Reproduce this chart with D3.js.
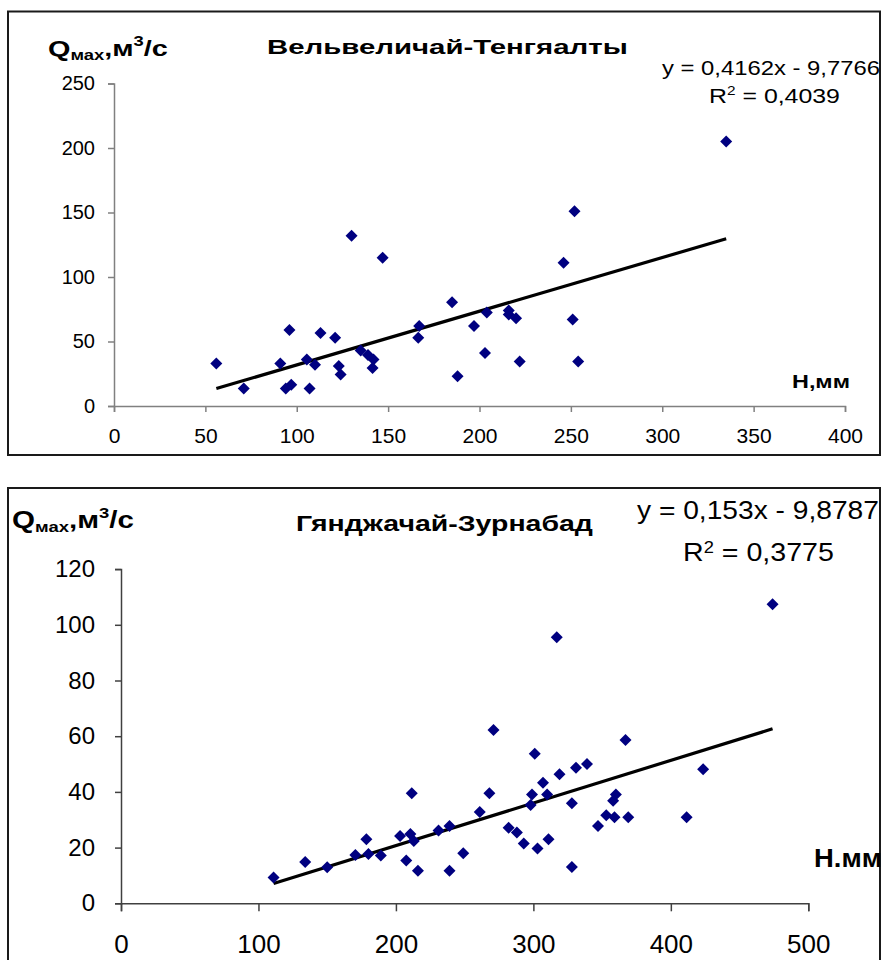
<!DOCTYPE html>
<html>
<head>
<meta charset="utf-8">
<script src="https://cdn.jsdelivr.net/npm/d3@7"></script>
<style>
  body { margin: 0; background: #fff; }
  text { font-family: Arial, "Liberation Sans", sans-serif; }
</style>
</head>
<body>
<script>
// Вельвеличай-Тенгяалты: H (mm) vs Qmax (m3/s)
var hTop = [56, 71, 91, 94, 97, 96, 105.5, 107, 110, 113, 121, 123, 124, 130, 135, 139, 142, 141.5, 147,
            167, 166.5, 185, 188, 197, 203, 204, 216, 216, 220, 222, 246, 251, 252, 254, 335];
var qTop = [33, 13.5, 33, 13.5, 16.5, 59, 36, 13.5, 32, 56.5, 53, 31, 24.5, 132, 43, 39.5, 36, 29.5, 115,
            62, 53, 80.5, 23, 62, 41, 72.5, 74, 71, 68, 34.5, 111, 67, 151, 34.5, 205];
var fitTop = [0.4162, -9.7766];
var xTicksTop = [0, 50, 100, 150, 200, 250, 300, 350, 400];
var yTicksTop = [0, 50, 100, 150, 200, 250];

// Гянджачай-Зурнабад
var hBot = [111, 134, 150, 170.5, 178.5, 180, 189, 203, 207.5, 210.5, 211.5, 213, 216, 231, 239, 239, 249,
            261, 268, 271, 282, 288, 293, 298, 299, 301, 303, 307, 310, 311, 317, 319, 328, 328, 331,
            339, 347, 353, 358, 360, 359, 367, 369, 411.5, 423.5, 474];
var qBot = [9.3, 14.8, 12.9, 17.3, 23, 17.7, 17.2, 24.2, 15.4, 24.9, 39.5, 22.4, 11.7, 26.1, 27.8, 11.7, 18,
            32.8, 39.5, 62.2, 27.1, 25.4, 21.5, 35.3, 39.1, 53.7, 19.7, 43.3, 39.1, 23, 95.5, 46.3, 35.9, 13, 48.7,
            50, 27.8, 31.6, 36.8, 39.1, 30.9, 58.6, 30.9, 30.9, 48.1, 107.4];
var fitBot = [0.153, -9.8787];
var xTicksBot = [0, 100, 200, 300, 400, 500];
var yTicksBot = [0, 20, 40, 60, 80, 100, 120];

var svg = d3.select("body").append("svg")
    .attr("width", 882)
    .attr("height", 960);

// the texts of the original are drawn wider than Arial, so stretch them to the measured span
function stretch(sel, x0, x1) {
  var b = sel.node().getBBox();
  var k = (x1 - x0) / b.width;
  sel.attr("transform", "translate(" + x0 + ",0) scale(" + k + ",1) translate(" + (-b.x) + ",0)");
}

function drawChart(c) {
  var g = svg.append("g");

  // frame
  g.append("rect")
      .attr("x", c.frame[0]).attr("y", c.frame[1])
      .attr("width", c.frame[2]).attr("height", c.frame[3])
      .attr("fill", "none").attr("stroke", "#1a1a1a").attr("stroke-width", 2);

  var x = d3.scaleLinear().domain(c.xDomain).range(c.xRange);
  var y = d3.scaleLinear().domain(c.yDomain).range(c.yRange);

  // x axis
  var xa = g.append("g")
      .attr("transform", "translate(0," + c.yRange[0] + ")")
      .call(d3.axisBottom(x).tickValues(c.xTicks).tickSizeOuter(0)
            .tickSize(c.xTickLen).tickPadding(c.xPad).tickFormat(d3.format("d")));
  // y axis
  var ya = g.append("g")
      .attr("transform", "translate(" + c.xRange[0] + ",0)")
      .call(d3.axisLeft(y).tickValues(c.yTicks).tickSizeOuter(0)
            .tickSize(6).tickPadding(c.yPad).tickFormat(d3.format("d")));

  [xa, ya].forEach(function(a) {
    a.select(".domain").attr("stroke", c.axisColor).attr("stroke-width", 1.5);
    a.selectAll(".tick line").attr("stroke", c.axisColor).attr("stroke-width", 1.5);
    a.selectAll(".tick text").attr("fill", "#000")
        .style("font-family", "Arial, 'Liberation Sans', sans-serif");
  });
  xa.selectAll(".tick text").style("font-size", c.xFont + "px");
  ya.selectAll(".tick text").style("font-size", c.yFont + "px");

  // trend line
  var xs = d3.extent(c.h);
  var line = d3.line()
      .x(function(d) { return x(d); })
      .y(function(d) { return y(c.fit[0] * d + c.fit[1]); });
  g.append("path")
      .datum(xs)
      .attr("d", line)
      .attr("fill", "none")
      .attr("stroke", "#000")
      .attr("stroke-width", 3.2);

  // points
  var pts = c.h.map(function(d, i) { return [d, c.q[i]]; });
  g.selectAll(".pt")
      .data(pts)
    .enter().append("path")
      .attr("class", "pt")
      .attr("d", d3.symbol(d3.symbolSquare, 72))
      .attr("transform", function(d) {
        return "translate(" + x(d[0]) + "," + y(d[1]) + ") rotate(45)";
      })
      .attr("fill", "#000080");

  // y label Qмах,м3/с
  var ql = g.append("text")
      .attr("x", c.qSpan[0]).attr("y", c.qY)
      .attr("font-weight", "bold")
      .style("font-size", c.qFont + "px");
  var small = Math.round(c.qFont * 0.62);
  ql.append("tspan").text("Q");
  ql.append("tspan").attr("dy", 4).style("font-size", small + "px").text("мах");
  ql.append("tspan").attr("dy", -4).text(",м");
  ql.append("tspan").attr("dy", -10).style("font-size", small + "px").text("3");
  ql.append("tspan").attr("dy", 10).text("/с");
  stretch(ql, c.qSpan[0], c.qSpan[1]);

  // title
  var t = g.append("text")
      .attr("x", c.titleSpan[0]).attr("y", c.titleY)
      .attr("font-weight", "bold")
      .style("font-size", c.titleFont + "px")
      .text(c.title);
  stretch(t, c.titleSpan[0], c.titleSpan[1]);

  // equation and R2
  var e = g.append("text")
      .attr("x", c.eqSpan[0]).attr("y", c.eqY)
      .style("font-size", c.eqFont + "px")
      .text(c.eq);
  stretch(e, c.eqSpan[0], c.eqSpan[1]);
  var r = g.append("text")
      .attr("x", c.r2Span[0]).attr("y", c.r2Y)
      .style("font-size", c.eqFont + "px");
  r.append("tspan").text("R");
  r.append("tspan").attr("dy", -8).style("font-size", Math.round(c.eqFont * 0.62) + "px").text("2");
  r.append("tspan").attr("dy", 8).text(" = " + c.r2);
  stretch(r, c.r2Span[0], c.r2Span[1]);

  // x label
  var hl = g.append("text")
      .attr("x", c.hSpan[0]).attr("y", c.hY)
      .attr("font-weight", "bold")
      .style("font-size", c.hFont + "px")
      .text(c.hLabel);
  stretch(hl, c.hSpan[0], c.hSpan[1]);
}

drawChart({
  frame: [8, 11.5, 872, 443.5],
  h: hTop, q: qTop, fit: fitTop,
  xDomain: [0, 400], xRange: [114, 845],
  yDomain: [0, 250], yRange: [406, 83.5],
  xTicks: xTicksTop, yTicks: yTicksTop,
  xTickLen: 6, xPad: 16, yPad: 13,
  xFont: 21, yFont: 20,
  axisColor: "#808080",
  qSpan: [48, 168], qY: 56, qFont: 22,
  title: "Вельвеличай-Тенгяалты", titleSpan: [267, 628], titleY: 54, titleFont: 21,
  eq: "y = 0,4162x - 9,7766", eqSpan: [662, 880], eqY: 75, eqFont: 21,
  r2Span: [709, 840], r2Y: 103, r2: "0,4039",
  hLabel: "Н,мм", hSpan: [792, 850], hY: 388, hFont: 19
});

drawChart({
  frame: [8, 488, 872, 480],
  h: hBot, q: qBot, fit: fitBot,
  xDomain: [0, 500], xRange: [121, 808.3],
  yDomain: [0, 120], yRange: [903.3, 569.1],
  xTicks: xTicksBot, yTicks: yTicksBot,
  xTickLen: 8, xPad: 23, yPad: 20,
  xFont: 26, yFont: 24,
  axisColor: "#404040",
  qSpan: [12, 134], qY: 528, qFont: 24,
  title: "Гянджачай-Зурнабад", titleSpan: [296, 593], titleY: 531, titleFont: 22,
  eq: "y = 0,153x - 9,8787", eqSpan: [637, 879], eqY: 519, eqFont: 25,
  r2Span: [683, 834], r2Y: 561.5, r2: "0,3775",
  hLabel: "Н.мм", hSpan: [814, 882], hY: 867, hFont: 25
});
</script>
</body>
</html>
